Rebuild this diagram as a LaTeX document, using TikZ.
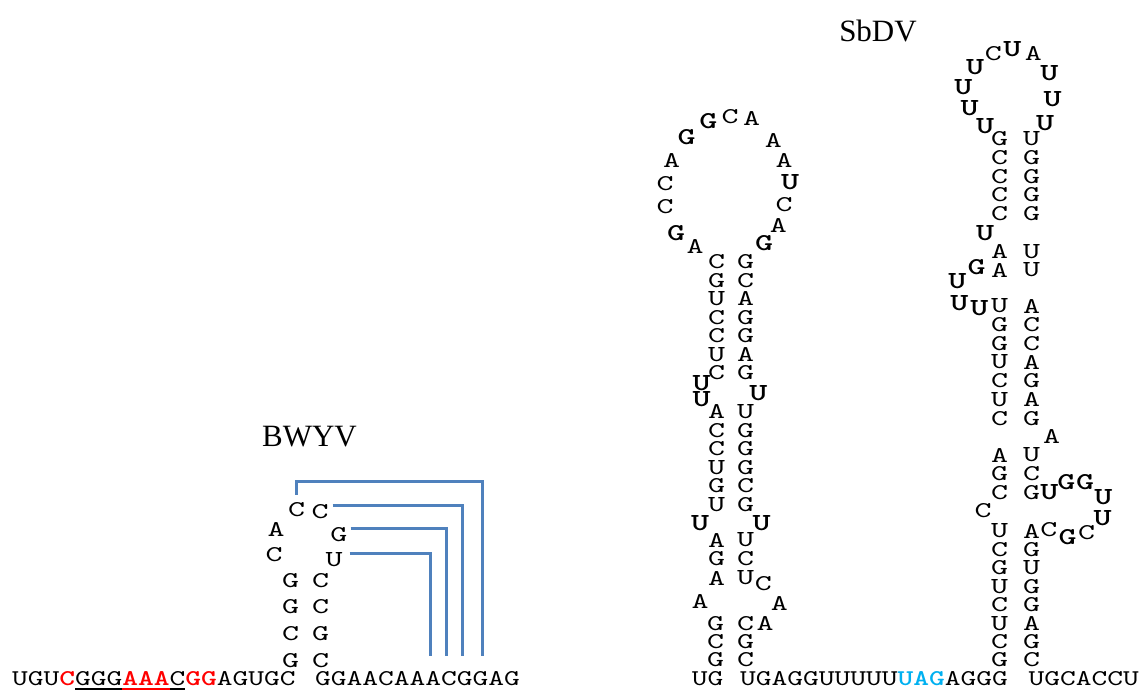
\documentclass[tikz,border=0pt]{standalone}
\usepackage{graphicx}
\usepackage{fontspec}
\newfontfamily\titlefont{Liberation Serif}
\newfontfamily\rnafont{lmmono10-regular.otf}
\newfontfamily\rnabold{lmmonolt10-bold.otf}
\definecolor{pkblue}{HTML}{4F81BD}
\definecolor{stopblue}{HTML}{00B0F0}
% one base, or a run of n bases, at a fixed pitch
\newcommand{\rnal}[1]{\resizebox{17pt}{14pt}{#1}}
\newcommand{\rnab}[1]{\resizebox{18pt}{15pt}{#1}}
\newcommand{\rnarun}[2]{\resizebox{#1\dimexpr15.75pt\relax}{14pt}{#2}}
\newcommand{\redbase}[1]{{\rnabold\color{red}#1}}
\newcommand{\stopbase}[1]{{\rnabold\color{stopblue}#1}}
\tikzset{
  nt/.style={inner sep=0pt, font=\rnafont},
  bt/.style={inner sep=0pt, font=\rnabold},
  seq/.style={nt, anchor=base west},
  pk/.style={pkblue, line width=3pt},
  title/.style={anchor=base, font=\titlefont\fontsize{31}{36}\selectfont}
}

\begin{document}
\begin{tikzpicture}[x=1pt, y=-1pt]
  \useasboundingbox (0,0) rectangle (1139,691);

  % BWYV
  \node[title] (bwyv) at (309.5,446) {BWYV};
  \node[seq] (bw5) at (12,685) {\rnarun{18}{UGU\redbase{C}GGG\redbase{AAA}C\redbase{GG}AGUGC}};
  \node[seq] (bw3) at (314.8,685) {\rnarun{13}{GGAACAAACGGAG}};
  \draw[line width=1.5pt] (75,689) -- (185.2,689);
  \draw[red, line width=1.5pt] (122.2,689) -- (169.5,689);

  % BWYV stem and loop
  \foreach \b [count=\i] in {G,G,C,G}
    \node[nt] (bwl\i) at (290.7,{580.4+26.6*(\i-1)}) {\rnal{\b}};
  \foreach \b [count=\i] in {C,C,G,C}
    \node[nt] (bwr\i) at (320.6,{580.4+26.6*(\i-1)}) {\rnal{\b}};
  \node[nt] (bwc) at (274,554.6) {\rnal{C}};
  \node[nt] (bwa) at (276,529) {\rnal{A}};
  \node[nt] (bwc1) at (296.5,510) {\rnal{C}};
  \node[nt] (bwc2) at (320,511.5) {\rnal{C}};
  \node[nt] (bwg) at (338.8,535) {\rnal{G}};
  \node[nt] (bwu) at (334,560) {\rnal{U}};

  % pseudoknot pairs
  \coordinate (pk1top) at (482.7,481.7);
  \coordinate (pk1) at (482.7,656);
  \coordinate (pk2) at (462,656);
  \coordinate (pk3) at (446,656);
  \coordinate (pk4) at (430,656);
  \draw[pk] ([yshift=8pt]bwc1.north) |- (pk1top) -- (pk1);
  \draw[pk] ([xshift=4pt,yshift=6.5pt]bwc2.east) -| (pk2);
  \draw[pk] ([xshift=3.2pt,yshift=6.7pt]bwg.east) -| (pk3);
  \draw[pk] ([xshift=6.8pt,yshift=6.7pt]bwu.east) -| (pk4);

  % SbDV
  \node[title] (sbdv) at (878,41) {SbDV};
  \node[seq] (sb5) at (691.7,685) {\rnarun{2}{UG}};
  \node[seq] (sbmid) at (740,685) {\rnarun{17}{UGAGGUUUUU\stopbase{UAG}AGGG}};
  \node[seq] (sb3) at (1028.3,685) {\rnarun{7}{UGCACCU}};

  % first hairpin
  \foreach \b [count=\i] in {G,C,G}
    \node[nt] (ha\i) at (715.5,{623.3+18.35*(\i-1)}) {\rnal{\b}};
  \foreach \b [count=\i] in {C,G,C}
    \node[nt] (hb\i) at (745.5,{623.3+18.35*(\i-1)}) {\rnal{\b}};
  \foreach \x/\y/\b [count=\i] in {700/601.7/A, 763.3/583.3/C, 779.3/603.3/A, 765/623.3/A}
    \node[nt] (hi\i) at (\x,\y) {\rnal{\b}};
  \foreach \b [count=\i] in {A,G,A}
    \node[nt] (hc\i) at (716.5,{540+19*(\i-1)}) {\rnal{\b}};
  \foreach \b [count=\i] in {U,C,U}
    \node[nt] (hd\i) at (745.5,{540+19*(\i-1)}) {\rnal{\b}};
  \foreach \b [count=\i] in {A,C,C,U,G,U}
    \node[nt] (he\i) at (716.5,{411.7+18.5*(\i-1)}) {\rnal{\b}};
  \foreach \b [count=\i] in {U,G,G,G,C,G}
    \node[nt] (hf\i) at (745.5,{411.7+18.5*(\i-1)}) {\rnal{\b}};
  \foreach \b [count=\i] in {C,G,U,C,C,U,C}
    \node[nt] (hg\i) at (716.5,{261.7+18.5*(\i-1)}) {\rnal{\b}};
  \foreach \b [count=\i] in {G,C,A,G,G,A,G}
    \node[nt] (hh\i) at (745.5,{261.7+18.5*(\i-1)}) {\rnal{\b}};
  \foreach \x/\y/\b [count=\i] in {700/523/U, 761.7/523/U, 701.7/383.3/U, 701.7/399.3/U, 758.3/392.7/U}
    \node[bt] (hu\i) at (\x,\y) {\rnab{\b}};
  % first loop
  \foreach \x/\y/\b [count=\i] in {695/246/A, 665/206.7/C, 665/183.3/C, 671.7/160/A, 730/116.7/C,
      751.7/118.3/A, 773.3/140/A, 784/160.7/A, 784/204.3/C, 778.3/225/A}
    \node[nt] (hl\i) at (\x,\y) {\rnal{\b}};
  \foreach \x/\y/\b [count=\i] in {676/233.3/G, 686.7/136.7/G, 708.3/121/G, 790/181.7/U, 764/243.3/G}
    \node[bt] (hm\i) at (\x,\y) {\rnab{\b}};

  % second hairpin
  \foreach \b [count=\i] in {U,C,G,U,C,U,C,G}
    \node[nt] (ka\i) at (999.5,{531+18.43*(\i-1)}) {\rnal{\b}};
  \foreach \b [count=\i] in {A,G,U,G,G,A,G,C}
    \node[nt] (kb\i) at (1031.5,{531+18.43*(\i-1)}) {\rnal{\b}};
  \foreach \b [count=\i] in {A,G,C}
    \node[nt] (kc\i) at (999.5,{455+18.85*(\i-1)}) {\rnal{\b}};
  \foreach \b [count=\i] in {U,C,G}
    \node[nt] (kd\i) at (1031.5,{455+18.85*(\i-1)}) {\rnal{\b}};
  \foreach \b [count=\i] in {U,G,G,U,C,U,C}
    \node[nt] (ke\i) at (999.5,{306+18.7*(\i-1)}) {\rnal{\b}};
  \foreach \b [count=\i] in {A,C,C,A,G,A,G}
    \node[nt] (kf\i) at (1031.5,{306+18.7*(\i-1)}) {\rnal{\b}};
  \foreach \b [count=\i] in {A,A}
    \node[nt] (kg\i) at (999.5,{251.7+18.3*(\i-1)}) {\rnal{\b}};
  \foreach \b [count=\i] in {U,U}
    \node[nt] (kh\i) at (1031.5,{251.7+18.3*(\i-1)}) {\rnal{\b}};
  \foreach \b [count=\i] in {G,C,C,C,C}
    \node[nt] (kk\i) at (999.5,{139+18.6*(\i-1)}) {\rnal{\b}};
  \foreach \b [count=\i] in {U,G,G,G,G}
    \node[nt] (km\i) at (1031.5,{139+18.6*(\i-1)}) {\rnal{\b}};
  \foreach \x/\y/\b [count=\i] in {983/511/C, 1051.7/436.7/A, 1086.7/533/C, 1048.8/530/C,
      993.3/53.3/C, 1033.3/53.3/A}
    \node[nt] (kn\i) at (\x,\y) {\rnal{\b}};
  \foreach \x/\y/\b [count=\i] in {1049.3/492.2/U, 1066.3/481.7/G, 1085/482.2/G, 1103.3/496.7/U,
      1102.7/518.3/U, 1067.5/537/G, 959.3/303.3/U, 979.3/308.3/U, 957.3/281/U, 976.7/266.7/G,
      985/233.3/U}
    \node[bt] (kp\i) at (\x,\y) {\rnab{\b}};
  % second loop
  \foreach \x/\y/\b [count=\i] in {985/126/U, 969.5/108.3/U, 963.3/87.3/U, 975/66.7/U,
      1012.3/49.5/U, 1049.3/72.7/U, 1052.7/99.3/U, 1045/123.5/U}
    \node[bt] (kq\i) at (\x,\y) {\rnab{\b}};
\end{tikzpicture}
\end{document}
